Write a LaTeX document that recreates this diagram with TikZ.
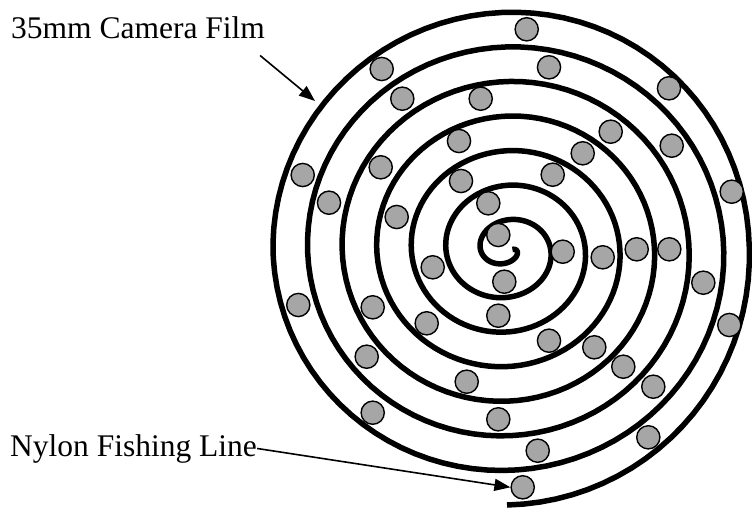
\documentclass[tikz,border=0pt]{standalone}
\usepackage{xcolor}
\usepackage{tikz}
\usepackage{fontspec}
\setmainfont{Liberation Serif}
\usetikzlibrary{arrows.meta,positioning}
\definecolor{beadgray}{HTML}{A6A6A6}
\definecolor{ink}{HTML}{000000}
\tikzset{
  roll/.style={draw=ink, line width=5.5pt, line cap=butt, line join=round},
  bead/.style={circle, draw=ink, line width=1.4pt, fill=beadgray, inner sep=0pt,
               minimum size=23.2pt},
  note/.style={inner sep=0pt, font=\fontsize{31.5}{36}\selectfont, anchor=base west},
  flow/.style={-{Triangle[length=16pt,width=12pt]}, line width=1.6pt, draw=ink}
}

\begin{document}
\begin{tikzpicture}[x=1pt,y=-1pt]
  \useasboundingbox (0,0) rectangle (752,508);
  % film wound as a spiral
  \draw[roll] plot[domain=-90:2550, samples=700, variable=\t]
    ({507 + (255 - 0.096111*(\t+90) + max(-4,min(5,-4+\t/20)))*cos(\t)},
     {250 - (255 - 0.096111*(\t+90))*sin(\t)});
  % fishing line beads between the turns
  \foreach \px/\py [count=\i] in {
      526.7/29.3, 381.7/69, 549/67.3, 669/88.3, 402.3/98.7, 480.7/98.7,
      610.7/131.7, 459/141, 671.7/145.7, 582.7/153.3, 302.7/175, 380.7/167.3,
      461/181, 552.7/174.7, 731.7/191.7, 329/202.7, 488.3/203.3, 396.7/217,
      498.3/235, 562.7/251.7, 602.7/257.3, 636.7/249.3, 669.3/249.3, 432.7/267.3,
      504.3/281.7, 703.3/282.7, 298.3/305, 372.7/307.3, 426.7/323.3, 498.3/315.7,
      729.3/325, 549/340.7, 594.3/347.3, 366.7/356.7, 623.3/366.7, 466.7/381.7,
      653.3/386.7, 372.7/412.7, 498.3/419.3, 648.3/437.3, 537.7/450.7, 522.7/487.3}
    \node[bead] (b\i) at (\px,\py) {};
  % labels
  \node[note] (film) at (11,39) {35mm Camera Film};
  \node[note] (nylon) at (10,456) {Nylon Fishing Line};
  \coordinate (filmedge) at (315,101);
  \draw[flow] ([xshift=-5pt,yshift=-16pt]film.south east) -- (filmedge);
  \draw[flow] (nylon.east) -- (b42.west);
\end{tikzpicture}
\end{document}
